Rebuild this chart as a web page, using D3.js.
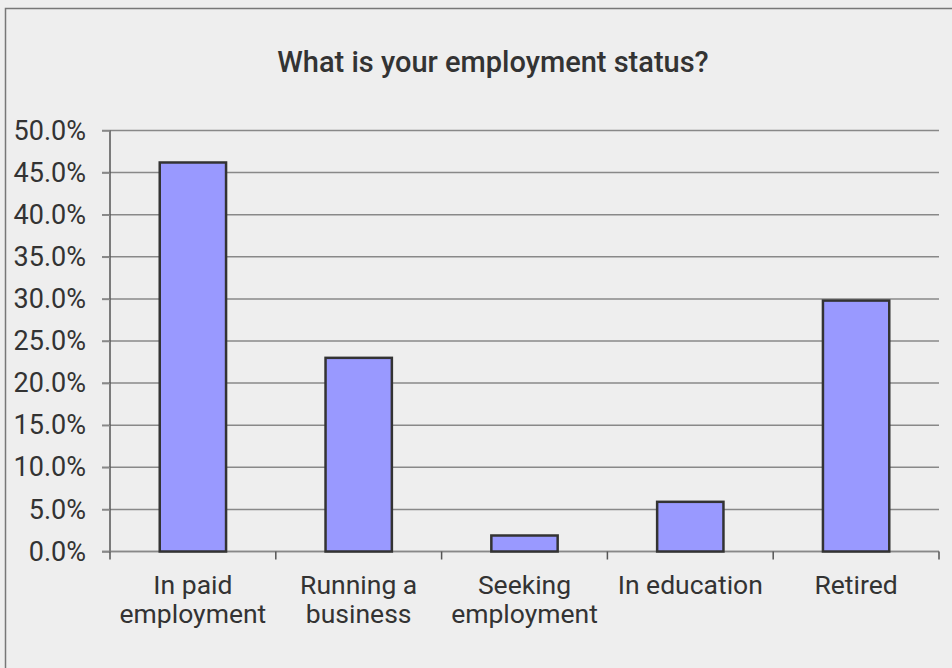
<!DOCTYPE html>
<html lang="en">
<head>
   <meta charset="UTF-8">
   <title>Employment Status</title>
   <style>
      html, body {
         margin: 0;
         padding: 0;
         background-color: #EEEEEE;
         overflow: hidden;
      }

      text {
         font-family: Roboto, "Liberation Sans", Arial, sans-serif;
         fill: #333333;
      }

      .title {
         font-size: 29px;
         font-weight: 500;
      }

      .tick text {
         font-size: 27px;
      }

      .grid line {
         stroke: #888888;
         stroke-width: 1.5px;
      }
   </style>
   <script src="https://cdn.jsdelivr.net/npm/d3@7"></script>
</head>
<body>
   <svg width="952" height="668"></svg>
   <script>
      // data
      const categories = ['In paid employment', 'Running a business', 'Seeking employment', 'In education', 'Retired']
      const labelLines = [['In paid', 'employment'], ['Running a', 'business'], ['Seeking', 'employment'], ['In education'], ['Retired']]
      const values = [46.2, 23.0, 1.9, 5.9, 29.8]
      const yTicks = [0, 5, 10, 15, 20, 25, 30, 35, 40, 45, 50]

      const svg = d3.select('svg')

      // outer chart frame (runs off the right and bottom)
      svg.append('rect')
         .attr('x', 5.5)
         .attr('y', 8.5)
         .attr('width', 1000)
         .attr('height', 1000)
         .attr('fill', '#EEEEEE')
         .attr('stroke', '#777777')
         .attr('stroke-width', 1.5)

      const padding = { top: 130.5, left: 110, right: 13, bottom: 116.5 }
      const WIDTH = 952 - padding.left - padding.right
      const HEIGHT = 668 - padding.top - padding.bottom

      const xScale = d3.scaleBand()
         .domain(categories)
         .range([0, WIDTH])

      const yScale = d3.scaleLinear()
         .domain([0, 50])
         .range([HEIGHT, 0])

      const chart = svg.append('g')
         .attr('transform', `translate(${padding.left}, ${padding.top})`)

      // title
      svg.append('text')
         .attr('class', 'title')
         .attr('x', 493)
         .attr('y', 72)
         .attr('text-anchor', 'middle')
         .text('What is your employment status?')

      // gridlines
      chart.append('g')
         .attr('class', 'grid')
         .selectAll('line')
         .data(yTicks)
         .enter()
         .append('line')
         .attr('x1', -8)
         .attr('x2', WIDTH)
         .attr('y1', d => yScale(d))
         .attr('y2', d => yScale(d))

      // y axis
      const yAxis = d3.axisLeft(yScale)
         .tickValues(yTicks)
         .tickSize(8)
         .tickPadding(16)
         .tickFormat(d => d.toFixed(1) + '%')

      const yAxisGroup = chart.append('g').call(yAxis)
      yAxisGroup.select('.domain').attr('stroke', '#555555').attr('stroke-width', 1.5)
         .attr('d', `M0,0V${HEIGHT}`)
      yAxisGroup.selectAll('.tick line').attr('stroke', '#888888').attr('stroke-width', 1.5)

      // x axis
      const xAxisGroup = chart.append('g')
         .attr('transform', `translate(0, ${HEIGHT})`)

      xAxisGroup.append('line')
         .attr('x1', -8)
         .attr('x2', WIDTH)
         .attr('stroke', '#888888')
         .attr('stroke-width', 1.5)

      const boundaries = categories.map(c => xScale(c)).concat([WIDTH])
      xAxisGroup.selectAll('.xtick')
         .data(boundaries)
         .enter()
         .append('line')
         .attr('class', 'xtick')
         .attr('x1', d => d)
         .attr('x2', d => d)
         .attr('y1', 0)
         .attr('y2', 8)
         .attr('stroke', '#555555')
         .attr('stroke-width', 1.5)

      xAxisGroup.selectAll('.xlabel')
         .data(categories)
         .enter()
         .append('text')
         .attr('class', 'xlabel')
         .attr('text-anchor', 'middle')
         .attr('font-size', '26.5px')
         .attr('x', d => xScale(d) + xScale.bandwidth() / 2)
         .attr('y', 42)
         .each(function (d, i) {
            d3.select(this).selectAll('tspan')
               .data(labelLines[i])
               .enter()
               .append('tspan')
               .attr('x', xScale(d) + xScale.bandwidth() / 2)
               .attr('dy', (t, j) => j === 0 ? 0 : 29)
               .text(t => t)
         })

      // bars
      const barWidth = xScale.bandwidth() * 0.4
      chart.selectAll('.bar')
         .data(values)
         .enter()
         .append('rect')
         .attr('class', 'bar')
         .attr('x', (d, i) => xScale(categories[i]) + (xScale.bandwidth() - barWidth) / 2)
         .attr('y', d => yScale(d))
         .attr('width', barWidth)
         .attr('height', d => HEIGHT - yScale(d))
         .attr('fill', '#9999FF')
         .attr('stroke', '#333333')
         .attr('stroke-width', 2.5)
   </script>
</body>
</html>
